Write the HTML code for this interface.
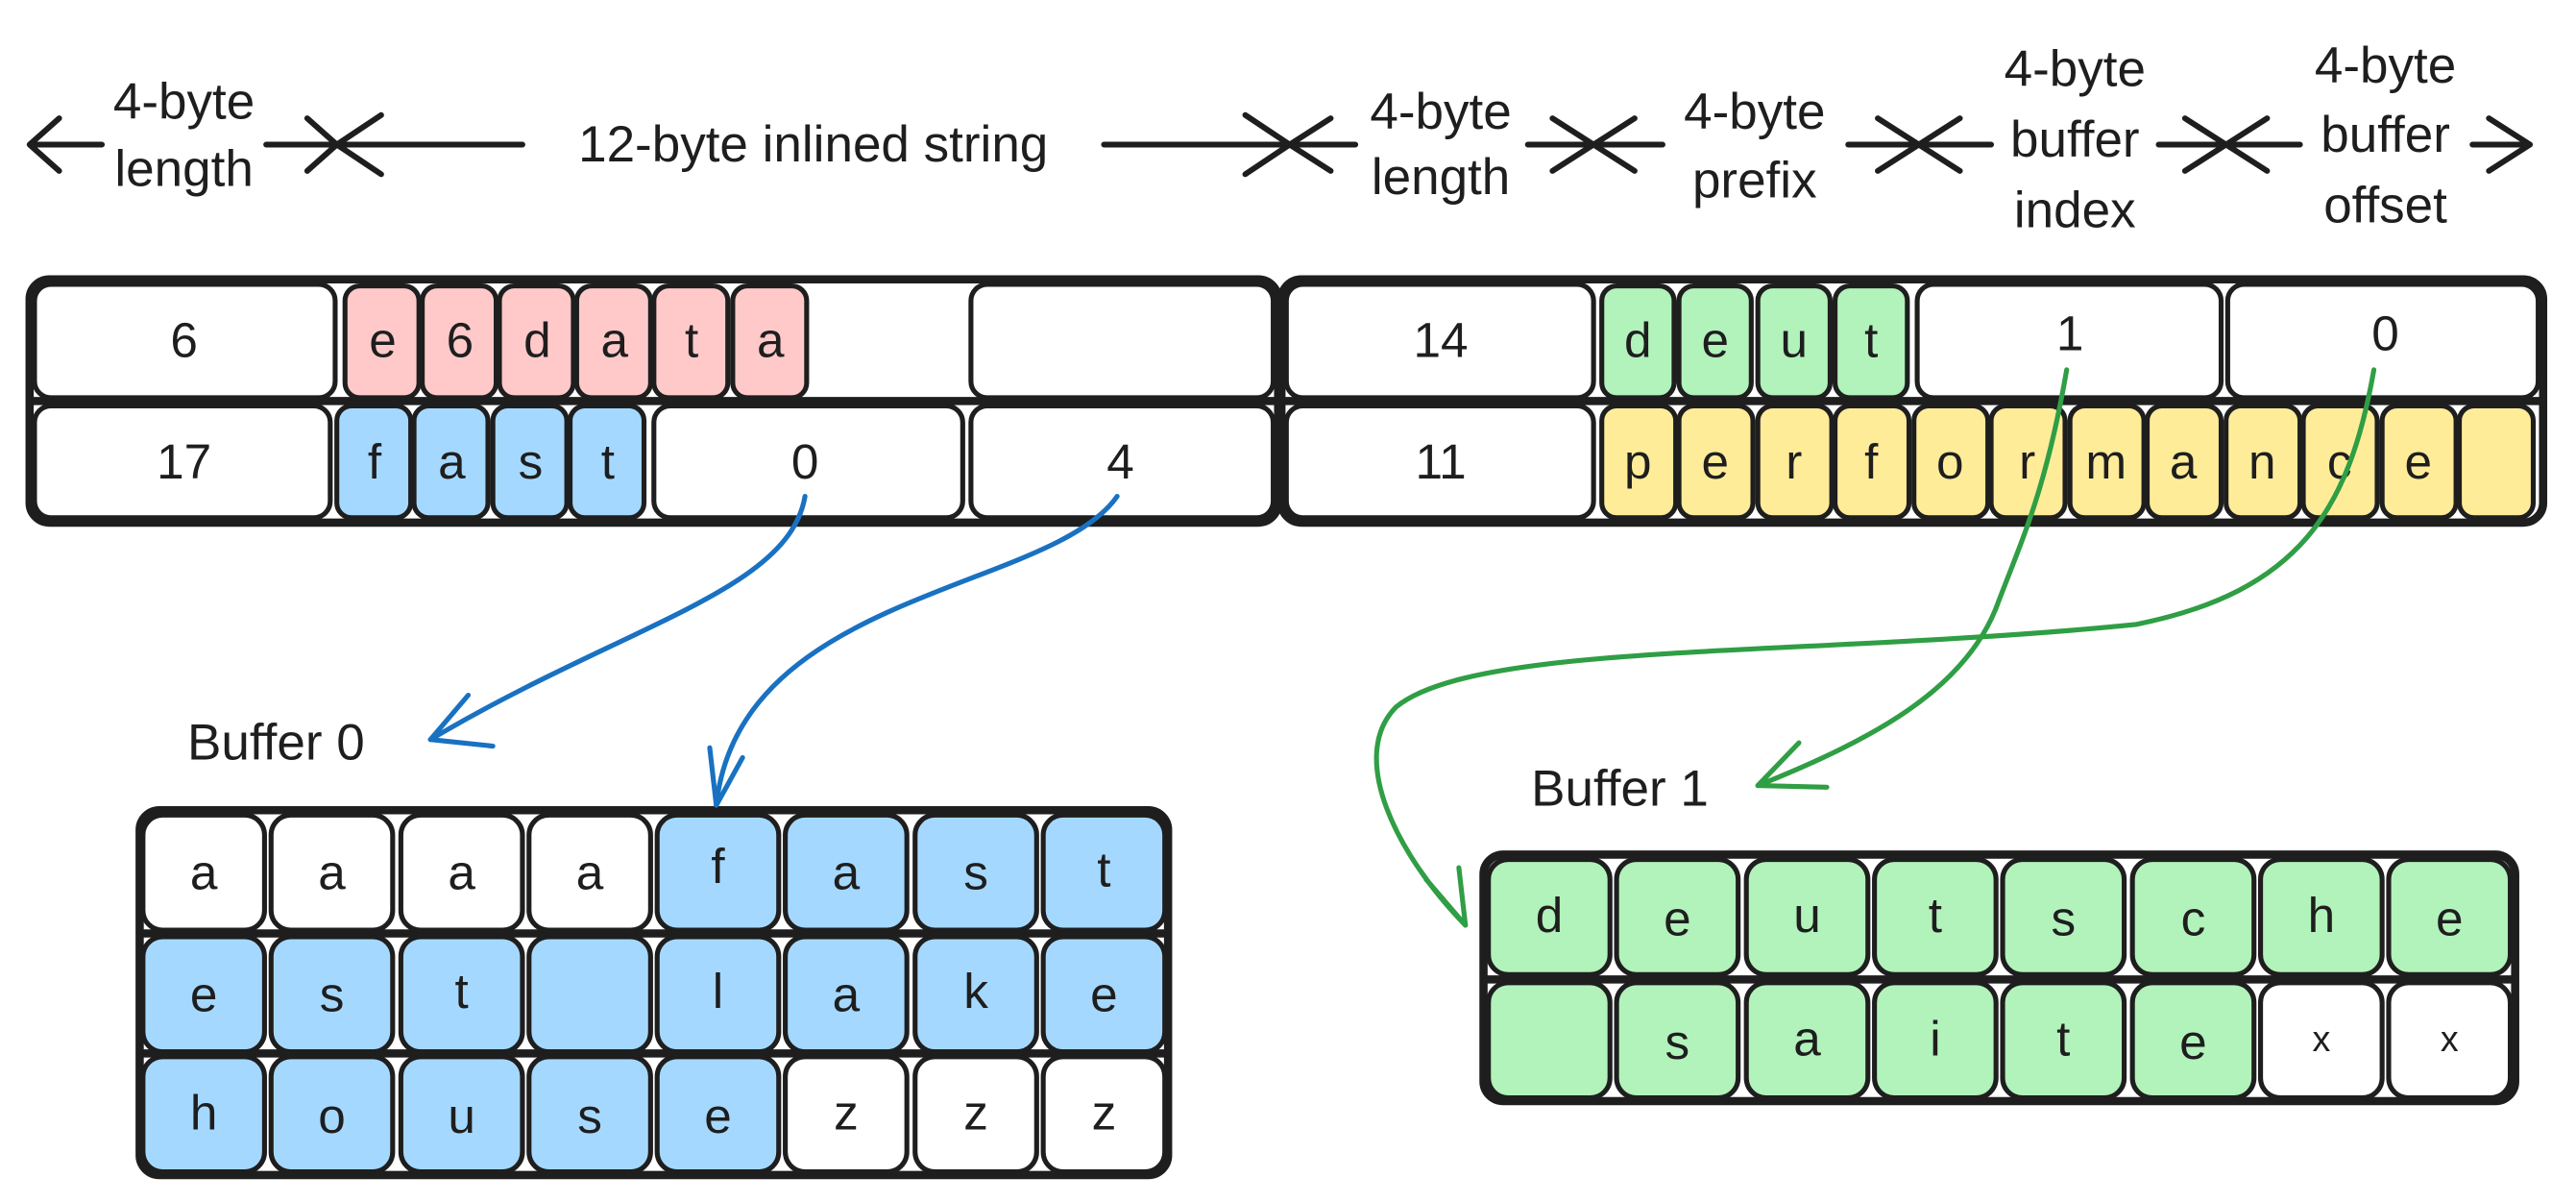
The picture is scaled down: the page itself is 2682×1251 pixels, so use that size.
<!DOCTYPE html>
<html><head><meta charset="utf-8"><style>
html,body{margin:0;padding:0;background:#fff;}
svg{display:block}
text{font-family:"Liberation Sans",sans-serif;fill:#1e1e1e;text-anchor:middle;dominant-baseline:central}
.c{stroke:#1e1e1e;stroke-width:3}
.o{fill:none;stroke:#1e1e1e;stroke-width:5}
.w{fill:#fff}.p{fill:#ffc9c9}.b{fill:#a5d8ff}.g{fill:#b2f2bb}.y{fill:#ffec99}
.t{font-size:30px}
.l{font-size:31px}
.a{fill:none;stroke:#1e1e1e;stroke-width:3.5;stroke-linecap:round;stroke-linejoin:round}
</style></head><body>
<svg width="2682" height="1251" viewBox="0 0 1568 731.4" xmlns="http://www.w3.org/2000/svg">
<g class="a">
<path d="M18,88 L62,88 M162,88 L205,88 M36,72 L18,88 L36,104 M187,72 L205,88 L187,104"/>
<path d="M205,88 L318,88 M672,88 L785,88 M232,70 L205,88 L232,106 M758,70 L785,88 L758,106"/>
<path d="M785,88 L825,88 M930,88 L970,88 M810,72 L785,88 L810,104 M945,72 L970,88 L945,104"/>
<path d="M970,88 L1012,88 M1125,88 L1168,88 M995,72 L970,88 L995,104 M1143,72 L1168,88 L1143,104"/>
<path d="M1168,88 L1212,88 M1314,88 L1355,88 M1193,72 L1168,88 L1193,104 M1330,72 L1355,88 L1330,104"/>
<path d="M1355,88 L1400,88 M1505,88 L1540,88 M1380,72 L1355,88 L1380,104 M1515,72 L1540,88 L1515,104"/>
</g>
<text class="l" x="112" y="62">4-byte</text><text class="l" x="112" y="103">length</text>
<text class="l" x="495" y="88">12-byte inlined string</text>
<text class="l" x="877" y="68">4-byte</text><text class="l" x="877" y="108">length</text>
<text class="l" x="1068" y="68">4-byte</text><text class="l" x="1068" y="110">prefix</text>
<text class="l" x="1263" y="42">4-byte</text><text class="l" x="1263" y="85">buffer</text><text class="l" x="1263" y="128">index</text>
<text class="l" x="1452" y="40">4-byte</text><text class="l" x="1452" y="82">buffer</text><text class="l" x="1452" y="125">offset</text>

<g class="c">
<rect class="w" x="21" y="173" width="183" height="69" rx="10"/>
<rect class="p" x="210" y="174" width="45" height="68" rx="9"/>
<rect class="p" x="257" y="174" width="45" height="68" rx="9"/>
<rect class="p" x="304" y="174" width="45" height="68" rx="9"/>
<rect class="p" x="351" y="174" width="45" height="68" rx="9"/>
<rect class="p" x="398" y="174" width="45" height="68" rx="9"/>
<rect class="p" x="446" y="174" width="45" height="68" rx="9"/>
<rect class="w" x="591" y="173" width="184" height="69" rx="10"/>
<rect class="w" x="21" y="247" width="180" height="68" rx="10"/>
<rect class="b" x="205" y="247" width="45" height="68" rx="9"/>
<rect class="b" x="252" y="247" width="45" height="68" rx="9"/>
<rect class="b" x="300" y="247" width="45" height="68" rx="9"/>
<rect class="b" x="347" y="247" width="45" height="68" rx="9"/>
<rect class="w" x="398" y="247" width="188" height="68" rx="10"/>
<rect class="w" x="591" y="247" width="184" height="68" rx="10"/>
</g>
<rect class="o" x="18" y="170" width="760" height="148" rx="12"/>
<line x1="18" y1="244" x2="778" y2="244" stroke="#1e1e1e" stroke-width="5"/>
<g class="t">
<text x="112" y="207">6</text>
<text x="233" y="207">e</text><text x="280" y="207">6</text><text x="327" y="207">d</text><text x="374" y="207">a</text><text x="421" y="207">t</text><text x="469" y="207">a</text>
<text x="112" y="281">17</text>
<text x="228" y="281">f</text><text x="275" y="281">a</text><text x="323" y="281">s</text><text x="370" y="281">t</text>
<text x="490" y="281">0</text><text x="682" y="281">4</text>
</g>

<g class="c">
<rect class="w" x="783" y="173" width="187" height="69" rx="10"/>
<rect class="g" x="975" y="174" width="44" height="68" rx="9"/>
<rect class="g" x="1022" y="174" width="44" height="68" rx="9"/>
<rect class="g" x="1070" y="174" width="44" height="68" rx="9"/>
<rect class="g" x="1117" y="174" width="44" height="68" rx="9"/>
<rect class="w" x="1167" y="173" width="185" height="69" rx="10"/>
<rect class="w" x="1356" y="173" width="189" height="69" rx="10"/>
<rect class="w" x="783" y="247" width="187" height="68" rx="10"/>
<rect class="y" x="975" y="247" width="45" height="68" rx="9"/>
<rect class="y" x="1022" y="247" width="45" height="68" rx="9"/>
<rect class="y" x="1070" y="247" width="45" height="68" rx="9"/>
<rect class="y" x="1117" y="247" width="45" height="68" rx="9"/>
<rect class="y" x="1165" y="247" width="45" height="68" rx="9"/>
<rect class="y" x="1212" y="247" width="45" height="68" rx="9"/>
<rect class="y" x="1260" y="247" width="45" height="68" rx="9"/>
<rect class="y" x="1307" y="247" width="45" height="68" rx="9"/>
<rect class="y" x="1355" y="247" width="45" height="68" rx="9"/>
<rect class="y" x="1402" y="247" width="45" height="68" rx="9"/>
<rect class="y" x="1450" y="247" width="45" height="68" rx="9"/>
<rect class="y" x="1497" y="247" width="45" height="68" rx="9"/>
</g>
<rect class="o" x="780" y="170" width="768" height="148" rx="12"/>
<line x1="780" y1="244" x2="1548" y2="244" stroke="#1e1e1e" stroke-width="5"/>
<g class="t">
<text x="877" y="207">14</text>
<text x="997" y="207">d</text><text x="1044" y="207">e</text><text x="1092" y="207">u</text><text x="1139" y="207">t</text>
<text x="1260" y="203">1</text><text x="1452" y="203">0</text>
<text x="877" y="281">11</text>
<text x="997" y="281">p</text><text x="1044" y="281">e</text><text x="1092" y="281">r</text><text x="1139" y="281">f</text><text x="1187" y="281">o</text><text x="1234" y="281">r</text><text x="1282" y="281">m</text><text x="1329" y="281">a</text><text x="1377" y="281">n</text><text x="1424" y="281">c</text><text x="1472" y="281">e</text>
</g>

<text class="l" x="168" y="452">Buffer 0</text>
<g class="c">
<rect class="w" x="87" y="496" width="74" height="70" rx="12"/>
<rect class="w" x="165" y="496" width="74" height="70" rx="12"/>
<rect class="w" x="244" y="496" width="74" height="70" rx="12"/>
<rect class="w" x="322" y="496" width="74" height="70" rx="12"/>
<rect class="b" x="400" y="496" width="74" height="70" rx="12"/>
<rect class="b" x="478" y="496" width="74" height="70" rx="12"/>
<rect class="b" x="557" y="496" width="74" height="70" rx="12"/>
<rect class="b" x="635" y="496" width="74" height="70" rx="12"/>
<rect class="b" x="87" y="570" width="74" height="70" rx="12"/>
<rect class="b" x="165" y="570" width="74" height="70" rx="12"/>
<rect class="b" x="244" y="570" width="74" height="70" rx="12"/>
<rect class="b" x="322" y="570" width="74" height="70" rx="12"/>
<rect class="b" x="400" y="570" width="74" height="70" rx="12"/>
<rect class="b" x="478" y="570" width="74" height="70" rx="12"/>
<rect class="b" x="557" y="570" width="74" height="70" rx="12"/>
<rect class="b" x="635" y="570" width="74" height="70" rx="12"/>
<rect class="b" x="87" y="643" width="74" height="70" rx="12"/>
<rect class="b" x="165" y="643" width="74" height="70" rx="12"/>
<rect class="b" x="244" y="643" width="74" height="70" rx="12"/>
<rect class="b" x="322" y="643" width="74" height="70" rx="12"/>
<rect class="b" x="400" y="643" width="74" height="70" rx="12"/>
<rect class="w" x="478" y="643" width="74" height="70" rx="12"/>
<rect class="w" x="557" y="643" width="74" height="70" rx="12"/>
<rect class="w" x="635" y="643" width="74" height="70" rx="12"/>
</g>
<rect class="o" x="85" y="493" width="626" height="222" rx="12"/>
<line x1="85" y1="568" x2="711" y2="568" stroke="#1e1e1e" stroke-width="5"/>
<line x1="85" y1="641" x2="711" y2="641" stroke="#1e1e1e" stroke-width="5"/>
<g class="t">
<text x="124" y="531">a</text><text x="202" y="531">a</text><text x="281" y="531">a</text><text x="359" y="531">a</text><text x="437" y="527">f</text><text x="515" y="531">a</text><text x="594" y="531">s</text><text x="672" y="529">t</text>
<text x="124" y="605">e</text><text x="202" y="605">s</text><text x="281" y="603">t</text><text x="437" y="603">l</text><text x="515" y="605">a</text><text x="594" y="603">k</text><text x="672" y="605">e</text>
<text x="124" y="677">h</text><text x="202" y="679">o</text><text x="281" y="679">u</text><text x="359" y="679">s</text><text x="437" y="679">e</text><text x="515" y="677">z</text><text x="594" y="677">z</text><text x="672" y="677">z</text>
</g>

<text class="l" x="986" y="480">Buffer 1</text>
<g class="c">
<rect class="g" x="906" y="523" width="74" height="70" rx="12"/>
<rect class="g" x="984" y="523" width="74" height="70" rx="12"/>
<rect class="g" x="1063" y="523" width="74" height="70" rx="12"/>
<rect class="g" x="1141" y="523" width="74" height="70" rx="12"/>
<rect class="g" x="1219" y="523" width="74" height="70" rx="12"/>
<rect class="g" x="1298" y="523" width="74" height="70" rx="12"/>
<rect class="g" x="1376" y="523" width="74" height="70" rx="12"/>
<rect class="g" x="1454" y="523" width="74" height="70" rx="12"/>
<rect class="g" x="906" y="598" width="74" height="70" rx="12"/>
<rect class="g" x="984" y="598" width="74" height="70" rx="12"/>
<rect class="g" x="1063" y="598" width="74" height="70" rx="12"/>
<rect class="g" x="1141" y="598" width="74" height="70" rx="12"/>
<rect class="g" x="1219" y="598" width="74" height="70" rx="12"/>
<rect class="g" x="1298" y="598" width="74" height="70" rx="12"/>
<rect class="w" x="1376" y="598" width="74" height="70" rx="12"/>
<rect class="w" x="1454" y="598" width="74" height="70" rx="12"/>
</g>
<rect class="o" x="903" y="520" width="628" height="150" rx="12"/>
<line x1="903" y1="596" x2="1531" y2="596" stroke="#1e1e1e" stroke-width="5"/>
<g class="t">
<text x="943" y="557">d</text><text x="1021" y="559">e</text><text x="1100" y="557">u</text><text x="1178" y="557">t</text><text x="1256" y="559">s</text><text x="1335" y="559">c</text><text x="1413" y="557">h</text><text x="1491" y="559">e</text>
<text x="1021" y="634">s</text><text x="1100" y="632">a</text><text x="1178" y="632">i</text><text x="1256" y="632">t</text><text x="1335" y="634">e</text><text x="1413" y="632" style="font-size:22px">x</text><text x="1491" y="632" style="font-size:22px">x</text>
</g>

<g fill="none" stroke="#1971c2" stroke-width="3" stroke-linecap="round" stroke-linejoin="round">
<path d="M490,302 C480,360 380,380 262,450"/>
<path d="M262,450 L300,454 M262,450 L285,423"/>
<path d="M680,302 C640,360 450,360 436,490"/>
<path d="M436,490 L432,455 M436,490 L452,461"/>
</g>
<g fill="none" stroke="#2f9e44" stroke-width="3" stroke-linecap="round" stroke-linejoin="round">
<path d="M1258,225 C1245,300 1230,330 1215,370 C1195,420 1140,450 1070,478"/>
<path d="M1070,478 L1112,479 M1070,478 L1095,452"/>
<path d="M1445,225 C1430,310 1400,360 1300,380 C1100,400 900,390 850,430 C820,460 850,520 892,563"/>
<path d="M892,563 L868,535 M892,563 L888,528"/>
</g>
</svg>
</body></html>
